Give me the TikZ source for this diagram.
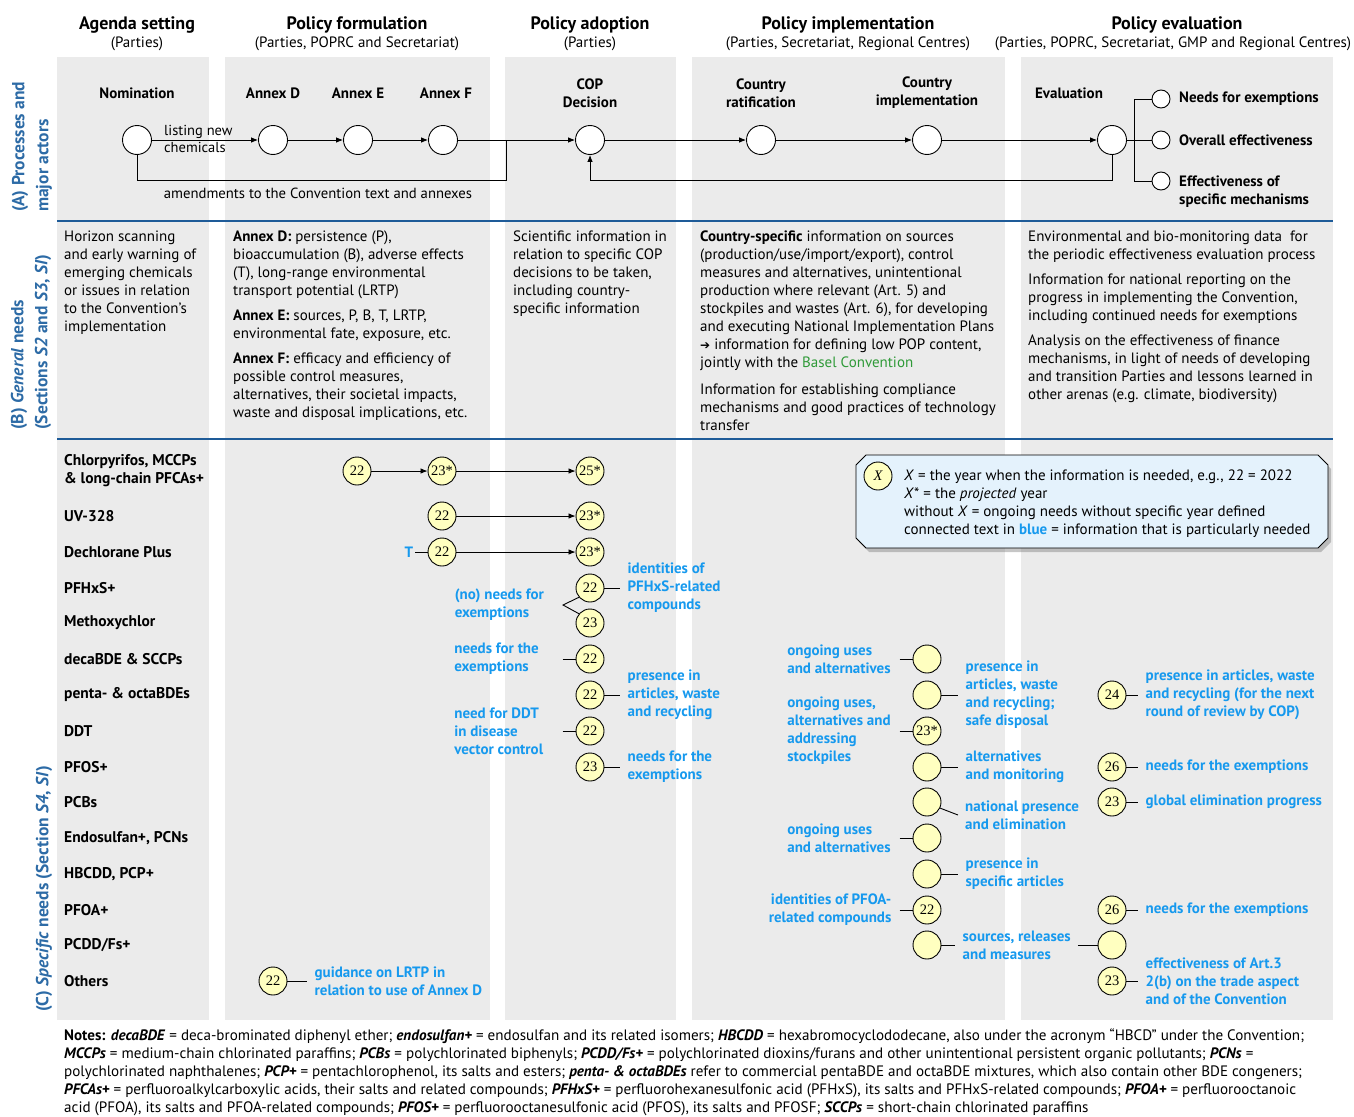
\documentclass[tikz,border=0pt]{standalone}
\usepackage{fontspec}
\setmainfont{PT Sans}
\newfontfamily\numf{Liberation Serif}
\newfontfamily\symf{DejaVu Sans}
\usetikzlibrary{arrows.meta,positioning,shadows}

\definecolor{bggray}{HTML}{EBEBEB}
\definecolor{secblue}{HTML}{2D6BA6}
\definecolor{rulecol}{HTML}{1E5B98}
\definecolor{needblue}{HTML}{1699EE}
\definecolor{baselgreen}{HTML}{2F9A38}
\definecolor{yrfill}{HTML}{FFFFC0}
\definecolor{legfill}{HTML}{E4F2FC}

\tikzset{
  hdr/.style={font=\bfseries\fontsize{18}{20}\selectfont, inner sep=0pt},
  subhdr/.style={font=\fontsize{15}{17}\selectfont, inner sep=0pt},
  seclab/.style={font=\bfseries\fontsize{17.5}{24}\selectfont, text=secblue, rotate=90, anchor=west, align=left, inner sep=0pt},
  proclab/.style={font=\bfseries\fontsize{15}{18}\selectfont, align=center, inner sep=0pt},
  proc/.style={draw, fill=white, circle, minimum size=29pt, inner sep=0pt, line width=0.9pt},
  outc/.style={draw, fill=white, circle, minimum size=18pt, inner sep=0pt, line width=0.9pt},
  yr/.style={draw, fill=yrfill, circle, minimum size=28pt, inner sep=0pt, line width=0.9pt, font=\numf\fontsize{14.5}{16}\selectfont},
  flow/.style={line width=0.8pt, -{Latex[length=7pt,width=5.5pt]}},
  link/.style={line width=0.9pt},
  para/.style={font=\fontsize{15}{18}\selectfont, align=left, anchor=west, inner sep=0pt},
  rowlab/.style={font=\bfseries\fontsize{15.5}{18}\selectfont, align=left, anchor=west, inner sep=0pt},
  needR/.style={font=\bfseries\fontsize{15}{18}\selectfont, text=needblue, align=flush left, inner xsep=7pt, inner ysep=0pt},
  needL/.style={font=\bfseries\fontsize{15}{18}\selectfont, text=needblue, align=flush left, inner sep=0pt, text width=#1},
}

\begin{document}
\begin{tikzpicture}[x=1pt,y=-1pt]
\useasboundingbox (0,0) rectangle (1354,1116);

%%%%% COLUMNS %%%%%
\fill[bggray] (57,57) rectangle (209,1020);
\fill[bggray] (225,57) rectangle (490,1020);
\fill[bggray] (505,57) rectangle (676,1020);
\fill[bggray] (692,57) rectangle (1005,1020);
\fill[bggray] (1021,57) rectangle (1333,1020);

\draw[rulecol, line width=2.5pt] (57,221) -- (1333,221);
\draw[rulecol, line width=2.5pt] (57,439) -- (1333,439);

%%%%% HEADERS %%%%%
\node[hdr] (hAgd) at (137,25) {Agenda setting};
\node[subhdr] (sAgd) at (137,44) {(Parties)};
\node[hdr] (hFrm) at (357,25) {Policy formulation};
\node[subhdr] (sFrm) at (357,44) {(Parties, POPRC and Secretariat)};
\node[hdr] (hAdp) at (590,25) {Policy adoption};
\node[subhdr] (sAdp) at (590,44) {(Parties)};
\node[hdr] (hImp) at (848,25) {Policy implementation};
\node[subhdr] (sImp) at (848,44) {(Parties, Secretariat, Regional Centres)};
\node[hdr] (hEvl) at (1177,25) {Policy evaluation};
\node[subhdr] (sEvl) at (1173,44) {(Parties, POPRC, Secretariat, GMP and Regional Centres)};

\node[seclab] (secA) at (32,212) {(A) Processes and\\major actors};
\node[seclab] (secB) at (31,430) {(B) \textit{General} needs\\(Sections \textit{S2} and \textit{S3}, \textit{SI})};
\node[seclab] (secC) at (44,1012) {(C) \textit{Specific} needs (Section \textit{S4}, \textit{SI})};

%%%%% (A) PROCESSES %%%%%
\node[proclab] (lNom) at (137,93) {Nomination};
\node[proclab] (lAnD) at (273,93) {Annex D};
\node[proclab] (lAnE) at (358,93) {Annex E};
\node[proclab] (lAnF) at (446,93) {Annex F};
\node[proclab] (lCop) at (590,93) {COP\\Decision};
\node[proclab] (lRat) at (761,93) {Country\\ratification};
\node[proclab] (lImp) at (927,93) {Country\\implementation};
\node[proclab] (lEvl) at (1069,93) {Evaluation};

\node[proc] (nom) at (137,140) {};
\node[proc] (anxD) at (273,140) {};
\node[proc] (anxE) at (358,140) {};
\node[proc] (anxF) at (443,140) {};
\node[proc] (cop) at (590,140) {};
\node[proc] (ratif) at (761,140) {};
\node[proc] (impl) at (927,140) {};
\node[proc] (eval) at (1112,140) {};

\node[para, font=\fontsize{14.5}{16.5}\selectfont] (lst) at (164,139) {listing new\\chemicals};
\node[subhdr, font=\fontsize{14.7}{16}\selectfont] (amd) at (318,193) {amendments to the Convention text and annexes};

\draw[flow] (nom) -- (anxD);
\draw[flow] (anxD) -- (anxE);
\draw[flow] (anxE) -- (anxF);
\draw[flow] (anxF) -- (cop);
\draw[flow] (cop) -- (ratif);
\draw[flow] (ratif) -- (impl);
\draw[flow] (impl) -- (eval);

\coordinate (amdUp) at (506,140);
\draw[link] (nom) -- ++(0,40) -| (amdUp);
\draw[flow] (eval) -- ++(0,40) -| (cop);

\node[outc] (needs) at (1161,99) {};
\node[outc] (ovc) at (1161,140) {};
\node[outc] (effc) at (1161,181) {};
\coordinate (brk) at (1134,140);
\draw[link] (eval) -- (ovc);
\draw[link] (needs) -| (brk) |- (effc);
\node[proclab, anchor=west] (lNeeds) at (1179,99) {Needs for exemptions};
\node[proclab, anchor=west] (lOvc) at (1179,140) {Overall effectiveness};
\node[proclab, anchor=west, align=left] (lEffc) at (1179,192) {Effectiveness of\\specific mechanisms};

%%%%% (B) GENERAL NEEDS %%%%%
\node[para] (bAgd) at (64,283) {Horizon scanning\\and early warning of\\emerging chemicals\\or issues in relation\\to the Convention’s\\implementation};
\node[para] (bAnD) at (233,265) {\textbf{Annex D:} persistence (P),\\bioaccumulation (B), adverse effects\\(T), long-range environmental\\transport potential (LRTP)};
\node[para] (bAnE) at (233,326) {\textbf{Annex E:} sources, P, B, T, LRTP,\\environmental fate, exposure, etc.};
\node[para] (bAnF) at (233,387) {\textbf{Annex F:} efficacy and efficiency of\\possible control measures,\\alternatives, their societal impacts,\\waste and disposal implications, etc.};
\node[para] (bAdp) at (513,274) {Scientific information in\\relation to specific COP\\decisions to be taken,\\including country-\\specific information};
\node[para] (bImp1) at (700,301) {\textbf{Country-specific} information on sources\\(production/use/import/export), control\\measures and alternatives, unintentional\\production where relevant (Art. 5) and\\stockpiles and wastes (Art. 6), for developing\\and executing National Implementation Plans\\{\symf\fontsize{12}{18}\selectfont ➔} information for defining low POP content,\\jointly with the \textcolor{baselgreen}{Basel Convention}};
\node[para] (bImp2) at (700,407) {Information for establishing compliance\\mechanisms and good practices of technology\\transfer};
\node[para] (bEvl1) at (1028,247) {Environmental and bio-monitoring data~ for\\the periodic effectiveness evaluation process};
\node[para] (bEvl2) at (1028,299) {Information for national reporting on the\\progress in implementing the Convention,\\including continued needs for exemptions};
\node[para] (bEvl3) at (1028,369) {Analysis on the effectiveness of finance\\mechanisms, in light of needs of developing\\and transition Parties and lessons learned in\\other arenas (e.g. climate, biodiversity)};

%%%%% (C) SPECIFIC NEEDS %%%%%
\node[rowlab] (rChl) at (64,471) {Chlorpyrifos, MCCPs\\\& long-chain PFCAs+};
\node[rowlab] (rUv) at (64,516) {UV-328};
\node[rowlab] (rDp) at (64,552) {Dechlorane Plus};
\node[rowlab] (rHx) at (64,588) {PFHxS+};
\node[rowlab] (rMx) at (64,623) {Methoxychlor};
\node[rowlab] (rDc) at (64,659) {decaBDE \& SCCPs};
\node[rowlab] (rPe) at (64,695) {penta- \& octaBDEs};
\node[rowlab] (rDd) at (64,731) {DDT};
\node[rowlab] (rPf) at (64,767) {PFOS+};
\node[rowlab] (rPcb) at (64,802) {PCBs};
\node[rowlab] (rEn) at (64,838) {Endosulfan+, PCNs};
\node[rowlab] (rHb) at (64,874) {HBCDD, PCP+};
\node[rowlab] (rPfoa) at (64,910) {PFOA+};
\node[rowlab] (rPcdd) at (64,945) {PCDD/Fs+};
\node[rowlab] (rOth) at (64,981) {Others};

% formulation / adoption
\node[yr] (ch22) at (357,471) {22};
\node[yr] (ch23) at (442,471) {23*};
\node[yr] (ch25) at (590,471) {25*};
\draw[flow] (ch22) -- (ch23);
\draw[flow] (ch23) -- (ch25);

\node[yr] (uv22) at (442,516) {22};
\node[yr] (uv23) at (590,516) {23*};
\draw[flow] (uv22) -- (uv23);

\node[font=\bfseries\fontsize{15}{18}\selectfont, text=needblue, inner sep=2pt] (dpT) at (409,552) {T};
\node[yr] (dp22) at (442,552) {22};
\node[yr] (dp23) at (590,552) {23*};
\draw[link] (dpT) -- (dp22);
\draw[flow] (dp22) -- (dp23);

\node[yr] (hx22) at (590,588) {22};
\node[needR, right=16pt of hx22] (hxId) {identities of\\PFHxS-related\\compounds};
\draw[link] (hx22) -- (hxId);
\node[yr] (mx23) at (590,623) {23};
\node[needL=108pt, anchor=east] (hxEx) at (563,605) {(no) needs for\\exemptions};
\draw[link] (hx22.-140) -- (hxEx.east) -- (mx23.140);

\node[yr] (dc22) at (590,659) {22};
\node[needL=108pt, left=13pt of dc22] (dcEx) {needs for the\\exemptions};
\draw[link] (dcEx) -- (dc22);

\node[yr] (pe22) at (590,695) {22};
\node[needR, right=16pt of pe22] (peArt) {presence in\\articles, waste\\and recycling};
\draw[link] (pe22) -- (peArt);

\node[yr] (dd22) at (590,731) {22};
\node[needL=108pt, left=13pt of dd22] (ddVec) {need for DDT\\in disease\\vector control};
\draw[link] (ddVec) -- (dd22);

\node[yr] (pf23) at (590,767) {23};
\node[needR, right=16pt of pf23] (pfEx) {needs for the\\exemptions};
\draw[link] (pf23) -- (pfEx);

\node[yr] (oth22) at (273,981) {22};
\node[needR, right=20pt of oth22] (othLr) {guidance on LRTP in\\relation to use of Annex D};
\draw[link] (oth22) -- (othLr);

% implementation
\node[yr] (dc4) at (927,659) {};
\node[needL=112pt, left=13pt of dc4] (dc4Use) {ongoing uses\\and alternatives};
\draw[link] (dc4Use) -- (dc4);

\node[yr] (pe4) at (927,695) {};
\node[needR, right=17pt of pe4] (pe4Art) {presence in\\articles, waste\\and recycling;\\safe disposal};
\draw[link] (pe4) -- (pe4Art);

\node[yr] (dd4) at (927,731) {23*};
\node[needL=112pt, left=13pt of dd4] (dd4Use) {ongoing uses,\\alternatives and\\addressing\\stockpiles};
\draw[link] (dd4Use) -- (dd4);

\node[yr] (pf4) at (927,767) {};
\node[needR, right=17pt of pf4] (pf4Alt) {alternatives\\and monitoring};
\draw[link] (pf4) -- (pf4Alt);

\node[yr] (pcb4) at (927,802) {};
\node[needR, anchor=west] (pcb4Nat) at (958,815) {national presence\\and elimination};
\draw[link] (pcb4.-25) -- (pcb4Nat.west);

\node[yr] (en4) at (927,838) {};
\node[needL=112pt, left=13pt of en4] (en4Use) {ongoing uses\\and alternatives};
\draw[link] (en4Use) -- (en4);

\node[yr] (hb4) at (927,874) {};
\node[needR, right=17pt of hb4] (hb4Art) {presence in\\specific articles};
\draw[link] (hb4) -- (hb4Art);

\node[yr] (pfoa4) at (927,910) {22};
\node[needR, align=flush right, inner xsep=8pt, left=13pt of pfoa4] (pfoa4Id) {identities of PFOA-\\related compounds};
\draw[link] (pfoa4Id) -- (pfoa4);

\node[yr] (pcdd4) at (927,945) {};
\node[needR, right=14pt of pcdd4] (pcdd4Src) {sources, releases\\and measures};
\draw[link] (pcdd4) -- (pcdd4Src);

% evaluation
\node[yr] (pcdd5) at (1112,945) {};
\draw[link] (pcdd4Src) -- (pcdd5);

\node[yr] (pe5) at (1112,695) {24};
\node[needR, right=12pt of pe5] (pe5Art) {presence in articles, waste\\and recycling (for the next\\round of review by COP)};
\draw[link] (pe5) -- (pe5Art);

\node[yr] (pf5) at (1112,767) {26};
\node[needR, right=12pt of pf5] (pf5Ex) {needs for the exemptions};
\draw[link] (pf5) -- (pf5Ex);

\node[yr] (pcb5) at (1112,802) {23};
\node[needR, right=12pt of pcb5] (pcb5Gl) {global elimination progress};
\draw[link] (pcb5) -- (pcb5Gl);

\node[yr] (pfoa5) at (1112,910) {26};
\node[needR, right=12pt of pfoa5] (pfoa5Ex) {needs for the exemptions};
\draw[link] (pfoa5) -- (pfoa5Ex);

\node[yr] (oth5) at (1112,981) {23};
\node[needR, right=12pt of oth5] (oth5Eff) {effectiveness of Art.3\\2(b) on the trade aspect\\and of the Convention};
\draw[link] (oth5) -- (oth5Eff);

%%%%% LEGEND %%%%%
\draw[line width=0.9pt, fill=legfill, drop shadow={shadow xshift=3pt, shadow yshift=-4pt, opacity=0.45}]
  (866,455) -- (1318,455) -- (1328,465) -- (1328,538) -- (1318,548) -- (866,548) -- (856,538) -- (856,465) -- cycle;
\node[yr, font=\numf\itshape\fontsize{14.5}{16}\selectfont] (legX) at (878,476) {X};
\node[para] (legTxt) at (904,504) {\textit{X} = the year when the information is needed, e.g., 22 = 2022\\\textit{X}* = the \textit{projected} year\\without \textit{X} = ongoing needs without specific year defined\\connected text in \textcolor{needblue}{\textbf{blue}} = information that is particularly needed};

%%%%% NOTES %%%%%
\node[para, font=\fontsize{15.1}{18}\selectfont] (notes) at (64,1072) {\textbf{Notes:} \textbf{\textit{decaBDE}} = deca-brominated diphenyl ether; \textbf{\textit{endosulfan+}} = endosulfan and its related isomers; \textbf{\textit{HBCDD}} = hexabromocyclododecane, also under the acronym “HBCD” under the Convention;\\\textbf{\textit{MCCPs}} = medium-chain chlorinated paraffins; \textbf{\textit{PCBs}} = polychlorinated biphenyls; \textbf{\textit{PCDD/Fs+}} = polychlorinated dioxins/furans and other unintentional persistent organic pollutants; \textbf{\textit{PCNs}} =\\polychlorinated naphthalenes; \textbf{\textit{PCP+}} = pentachlorophenol, its salts and esters; \textbf{\textit{penta- \& octaBDEs}} refer to commercial pentaBDE and octaBDE mixtures, which also contain other BDE congeners;\\\textbf{\textit{PFCAs+}} = perfluoroalkylcarboxylic acids, their salts and related compounds; \textbf{\textit{PFHxS+}} = perfluorohexanesulfonic acid (PFHxS), its salts and PFHxS-related compounds; \textbf{\textit{PFOA+}} = perfluorooctanoic\\acid (PFOA), its salts and PFOA-related compounds; \textbf{\textit{PFOS+}} = perfluorooctanesulfonic acid (PFOS), its salts and PFOSF; \textbf{\textit{SCCPs}} = short-chain chlorinated paraffins};

\end{tikzpicture}
\end{document}
